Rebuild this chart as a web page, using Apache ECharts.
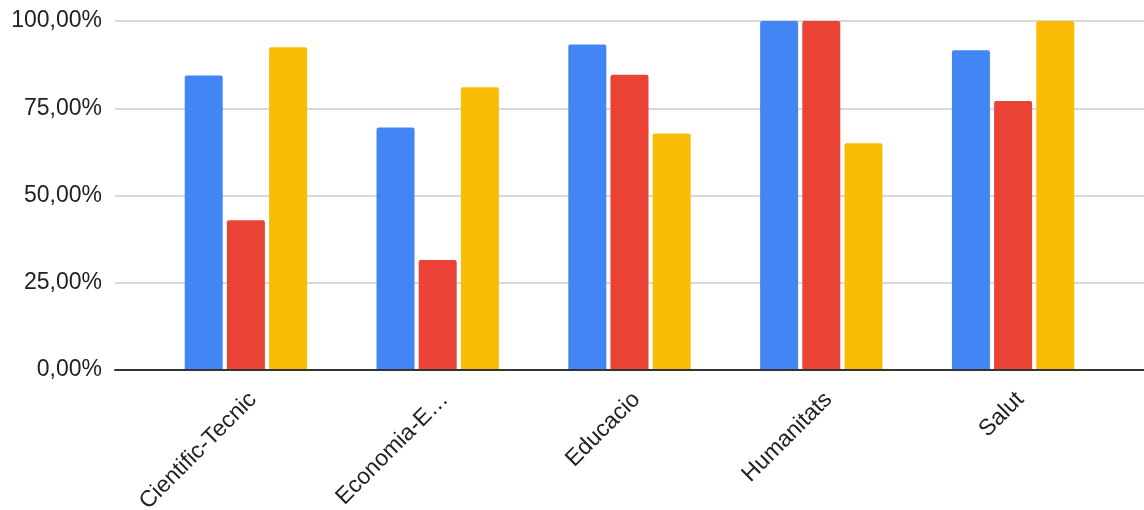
<!DOCTYPE html>
<html>
<head>
<meta charset="utf-8">
<style>
  html, body { margin: 0; padding: 0; background: #fff; }
  #chart { width: 1144px; height: 510px; }
</style>
<script src="https://cdn.jsdelivr.net/npm/echarts@6/dist/echarts.min.js"></script>
</head>
<body>
<div id="chart"></div>
<script>
const categories = ["Cientific-Tecnic", "Economia-E\u2026", "Educacio", "Humanitats", "Salut"];
const blueValues = [84.4, 69.5, 93.3, 100, 91.6];
const redValues = [42.9, 31.5, 84.6, 100, 77.1];
const yellowValues = [92.5, 81.0, 67.8, 65.0, 100];
const yTicks = [0, 25, 50, 75, 100];

const fontFamily = "'Liberation Sans', Arial, sans-serif";

const fmtPct = (v) => v.toFixed(2).replace(".", ",") + "%";

const chartInstance = echarts.init(document.getElementById("chart"));

const makeBar = (name, data, color) => ({
  name,
  type: "bar",
  xAxisIndex: 1,
  yAxisIndex: 1,
  data,
  barWidth: 38,
  barGap: "11%",
  itemStyle: {
    color,
    borderRadius: [2, 2, 0, 0],
  },
});

const chartOpt = {
  animation: false,
  textStyle: { fontFamily },
  grid: [
    // full-width grid: gridlines, y labels, baseline
    { left: 115, right: 0, top: 21, bottom: 140, outerBoundsMode: "none", containLabel: false },
    // inner grid where the bars live
    { left: 150, right: 35, top: 21, bottom: 140, outerBoundsMode: "none", containLabel: false },
  ],
  xAxis: [
    {
      type: "category",
      gridIndex: 0,
      data: categories,
      axisLine: { show: true, lineStyle: { color: "#333", width: 2 } },
      axisTick: { show: false },
      axisLabel: { show: false },
      z: 5,
    },
    {
      type: "category",
      gridIndex: 1,
      data: categories,
      axisLine: { show: false },
      axisTick: { show: false },
      axisLabel: {
        rotate: 45,
        margin: 19,
        fontSize: 23,
        lineHeight: 20,
        verticalAlign: "top",
        color: "#222",
        fontFamily,
      },
    },
  ],
  yAxis: [
    {
      type: "value",
      gridIndex: 0,
      min: yTicks[0],
      max: yTicks[yTicks.length - 1],
      interval: 25,
      axisLine: { show: false },
      axisTick: { show: false },
      axisLabel: {
        margin: 13,
        fontSize: 23,
        color: "#222",
        fontFamily,
        formatter: (v) => fmtPct(v),
      },
      splitLine: { lineStyle: { color: "#ccc", width: 1.5 } },
    },
    {
      type: "value",
      gridIndex: 1,
      min: yTicks[0],
      max: yTicks[yTicks.length - 1],
      interval: 25,
      show: false,
      splitLine: { show: false },
    },
  ],
  series: [
    makeBar("Blue", blueValues, "#4285F4"),
    makeBar("Red", redValues, "#EA4335"),
    makeBar("Yellow", yellowValues, "#FBBC04"),
  ],
};

chartInstance.setOption(chartOpt);

window.addEventListener("resize", () => chartInstance.resize());
</script>
</body>
</html>
